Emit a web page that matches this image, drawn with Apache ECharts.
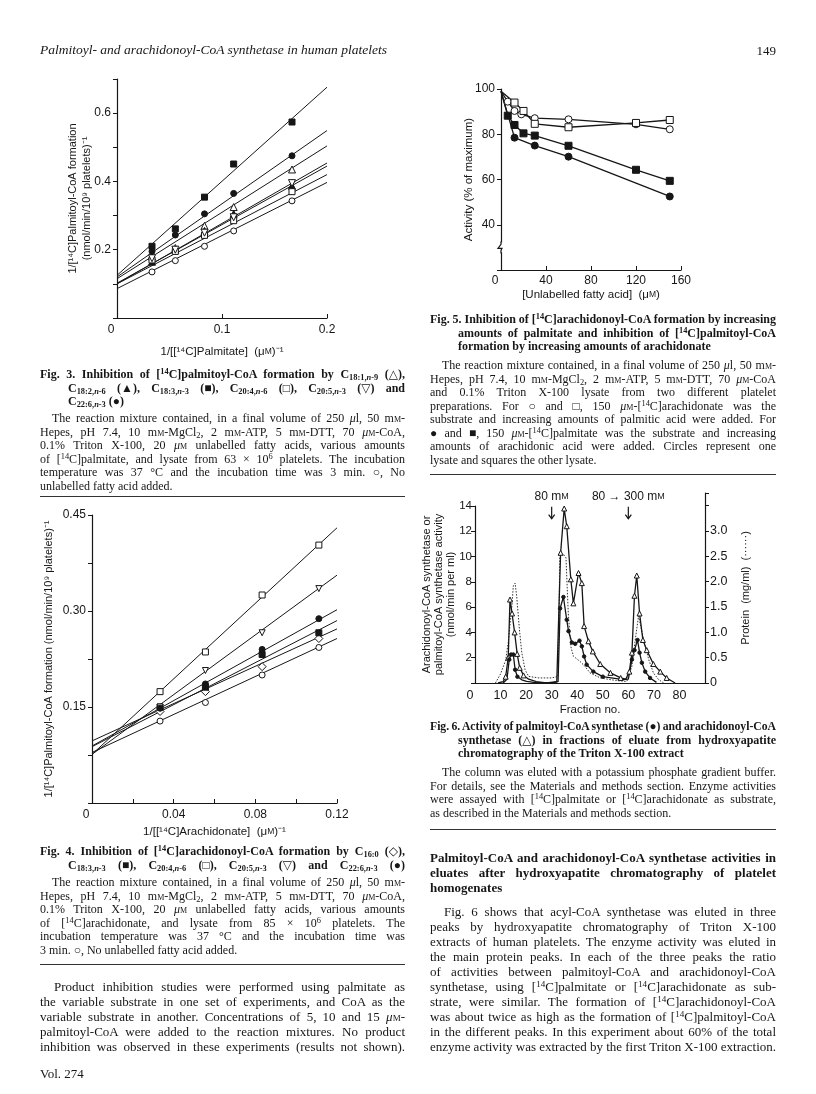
<!DOCTYPE html>
<html>
<head>
<meta charset="utf-8">
<title>Palmitoyl- and arachidonoyl-CoA synthetase in human platelets</title>
<script src="https://cdn.jsdelivr.net/npm/echarts@6/dist/echarts.min.js"></script>
<style>
html, body { margin: 0; padding: 0; background: #fff; }
#page { position: relative; width: 816px; height: 1094px; overflow: hidden; background: #fff; color: #161616;
        font-family: "Liberation Serif", "DejaVu Serif", serif; }
#chart { position: absolute; left: 0; top: 0; width: 816px; height: 1094px; }
.ln { position: absolute; white-space: nowrap; }
.ln span { display: inline-block; transform-origin: 0 50%; }
.cap { font-size: 12px; line-height: 14px; }
.body { font-size: 13px; line-height: 15px; }
.head { font-size: 13.5px; line-height: 16px; font-style: italic; }
.rule { position: absolute; height: 0; border-top: 1.2px solid #333; }
.sc { font-variant: small-caps; }
sub, sup { font-size: 70%; line-height: 0; }
sub { vertical-align: -0.25em; }
sup { vertical-align: 0.45em; }
</style>
</head>
<body>
<div id="page">
  <div id="chart"></div>
</div>
<script>
// ---- Fig. 3 : 1/v against 1/[palmitate] ----
var fig3X = [1 / 30, 1 / 18, 1 / 12, 1 / 9, 1 / 6];
var fig3None = [0.135, 0.168, 0.210, 0.255, 0.343];
var fig3C181 = [0.180, 0.205, 0.270, 0.325, 0.435];
var fig3C182 = [0.165, 0.200, 0.255, 0.305, 0.387];
var fig3C183 = [0.210, 0.261, 0.354, 0.451, 0.574];
var fig3C204 = [0.170, 0.195, 0.242, 0.285, 0.370];
var fig3C205 = [0.175, 0.200, 0.250, 0.295, 0.395];
var fig3C226 = [0.195, 0.243, 0.305, 0.365, 0.475];
// fitted lines, value at x = 0 and at x = 0.2 (same order as above)
var fig3FitStart = [0.086, 0.115, 0.100, 0.125, 0.100, 0.102, 0.120];
var fig3FitEnd = [0.397, 0.504, 0.454, 0.676, 0.420, 0.445, 0.549];

// ---- Fig. 4 : 1/v against 1/[arachidonate] ----
var fig4X = [1 / 30, 1 / 18, 1 / 12, 1 / 9];
var fig4None = [0.128, 0.157, 0.200, 0.243];
var fig4C160 = [0.143, 0.174, 0.213, 0.257];
var fig4C183 = [0.150, 0.181, 0.232, 0.266];
var fig4C204 = [0.174, 0.236, 0.325, 0.403];
var fig4C205 = [0.150, 0.207, 0.266, 0.335];
var fig4C226 = [0.148, 0.186, 0.240, 0.288];
// fitted lines, value at x = 0 and at x = 0.12
var fig4FitStart = [0.079, 0.097, 0.088, 0.076, 0.076, 0.089];
var fig4FitEnd = [0.257, 0.272, 0.285, 0.430, 0.356, 0.302];

// ---- Fig. 5 : activity (% of maximum) against unlabelled fatty acid (uM) ----
var fig5XOpenCircle = [0, 6, 12, 18, 30, 60, 120, 150];
var fig5OpenCircle = [99, 94.4, 90.3, 88.8, 87.1, 86.6, 84.4, 82.2];
var fig5XOpenSquare = [0, 12, 20, 30, 60, 120, 150];
var fig5OpenSquare = [99, 94, 90.3, 84.6, 83.1, 85, 86.3];
var fig5XFilledSquare = [0, 6, 12, 20, 30, 60, 120, 150];
var fig5FilledSquare = [99, 88.2, 84.1, 80.4, 79.4, 74.9, 64.3, 59.4];
var fig5XFilledCircle = [0, 12, 30, 60, 150];
var fig5FilledCircle = [99, 78.5, 75, 70.1, 52.5];

// ---- Fig. 6 : hydroxyapatite fractions ----
var fig6FracTri = [9, 11, 12, 13, 13.7, 14.5, 15.5, 16.5, 17.5, 19, 21, 24, 28, 32, 33.5, 34.9, 35.9, 37.5, 38.5, 40.5,
                   41.8, 42.7, 44.4, 46.1, 49, 53, 57, 59, 60.4, 61.4, 62.4, 63.3, 64.4, 65.7, 67.2, 69.8, 72.5, 75, 78.3];
var fig6Tri = [0, 0.1, 0.5, 2.0, 6.6, 5.5, 4.0, 2.3, 1.2, 0.6, 0.3, 0.1, 0, 0.1, 10.3, 13.8, 12.4, 8.2, 6.3, 8.7,
               7.9, 4.5, 3.3, 2.5, 1.5, 0.8, 0.4, 0.3, 0.9, 2.4, 6.9, 8.5, 5.5, 3.4, 2.6, 1.5, 0.9, 0.4, 0];
var fig6FracDot = [11, 12.5, 13.4, 14.1, 15, 15.7, 16.6, 18.3, 20.2, 23, 30, 32.5, 33.3, 34.6, 35.9, 36.6, 37.9, 39.2, 40.9, 41.8,
                   42.7, 43.7, 46.3, 50, 58, 60, 61.4, 62.4, 63.6, 64.4, 65.3, 66.6, 68.5, 71];
var fig6Dot = [0, 0.3, 1.85, 2.25, 2.25, 1.05, 0.5, 0.25, 0.13, 0.05, 0, 0.1, 5.9, 6.8, 5.0, 4.1, 3.2, 3.1, 3.35, 2.9,
               2.1, 1.45, 0.9, 0.5, 0.26, 0.3, 1.85, 2.6, 3.4, 2.4, 1.6, 0.9, 0.4, 0.05];
var fig6FracProt = [8, 10, 12, 13, 14.4, 15, 15.7, 16.3, 17.4, 18.3, 19.6, 21, 25, 30, 32.5, 33.2, 35, 35.6, 36.5, 37.5,
                    38.5, 41, 43, 45, 49, 55, 59.4, 61.4, 62.7, 64, 64.6, 66, 68, 69.8, 71.8, 73.8];
var fig6Prot = [0, 0.18, 0.45, 0.8, 1.5, 1.92, 1.97, 1.72, 1.05, 0.6, 0.26, 0.13, 0.1, 0.1, 0.13, 2.55, 2.52, 2.47, 1.38, 0.72,
                0.53, 0.43, 0.33, 0.2, 0.1, 0.05, 0.03, 0.33, 0.85, 1.32, 1.3, 0.85, 0.46, 0.2, 0.07, 0];
var fig6ArrowFrac = [30, 60];
var fig6ArrowText = ['80 m{s|M}', '80 \u2192 300 m{s|M}'];

var ink = '#161616';
var sans = 'Liberation Sans';

function pts(xs, ys) {
    return xs.map(function (x, i) { return [x, ys[i]]; });
}

// label formatter: label every `every` ticks of size `step`
function fmtEvery(step, every, digits, zeroLabel) {
    return function (v) {
        var k = Math.round(v / step);
        if (k === 0) return zeroLabel;
        if (k % every) return '';
        return (k * step).toFixed(digits);
    };
}

function mkAxis(gi, min, max, interval, fmt, o) {
    o = o || {};
    return {
        type: 'value', gridIndex: gi, min: min, max: max, interval: interval,
        position: o.position, show: o.show !== false,
        name: o.name || '', nameLocation: 'middle', nameGap: o.nameGap || 20, nameRotate: o.nameRotate,
        nameMoveOverlap: false,
        nameTextStyle: { color: ink, fontFamily: sans, fontSize: o.nameSize || 11, lineHeight: o.nameLH || 14,
                         rich: { s: { fontSize: 8.5, fontFamily: sans, color: ink } } },
        axisLine: { show: true, onZero: false, lineStyle: { color: ink, width: 1.2 } },
        axisTick: { show: o.ticks !== false, inside: !!o.tickInside, length: 4, lineStyle: { color: ink, width: 1 } },
        axisLabel: { show: true, formatter: fmt, color: ink, fontFamily: sans, fontSize: o.labelSize || 12,
                     margin: o.margin || 6, rich: { z: { padding: [0, o.zeroShift || 12, 0, 0] } } },
        splitLine: { show: false }
    };
}

function marker(gi, data, sym, filled, size, rot) {
    return {
        type: 'scatter', xAxisIndex: gi, yAxisIndex: gi, data: data, symbol: sym, symbolSize: size,
        symbolRotate: rot || 0, silent: true, z: 4,
        itemStyle: { color: filled ? ink : '#fff', borderColor: ink, borderWidth: 1, opacity: 1 }
    };
}

function fitLine(gi, x0, x1, y0, y1) {
    return {
        type: 'line', xAxisIndex: gi, yAxisIndex: gi, data: [[x0, y0], [x1, y1]], symbol: 'none',
        silent: true, z: 2, lineStyle: { color: ink, width: 1 }
    };
}

function curve(gi, data, sym, filled, size, rot, hideBelow) {
    return {
        type: 'line', xAxisIndex: gi, yAxisIndex: gi, silent: true, z: 3,
        data: data.map(function (p) {
            return (p[0] === 0 || p[1] < hideBelow) ? { value: p, symbol: 'none' } : { value: p };
        }),
        symbol: sym, symbolSize: size, symbolRotate: rot || 0, showAllSymbol: true,
        lineStyle: { color: ink, width: 1.3 },
        itemStyle: { color: filled ? ink : '#fff', borderColor: ink, borderWidth: 1 }
    };
}

var series = [];

// Fig. 3
var fig3Sets = [fig3None, fig3C181, fig3C182, fig3C183, fig3C204, fig3C205, fig3C226];
var fig3Sym = ['circle', 'triangle', 'triangle', 'rect', 'rect', 'triangle', 'circle'];
var fig3Fill = [0, 0, 1, 1, 0, 0, 1];
var fig3Rot = [0, 0, 0, 0, 0, 180, 0];
fig3Sets.forEach(function (ys, i) {
    series.push(fitLine(0, 0, 0.2, fig3FitStart[i], fig3FitEnd[i]));
    series.push(marker(0, pts(fig3X, ys), fig3Sym[i], fig3Fill[i], fig3Sym[i] === 'triangle' ? 7 : 6, fig3Rot[i]));
});

// Fig. 4
var fig4Sets = [fig4None, fig4C160, fig4C183, fig4C204, fig4C205, fig4C226];
var fig4Sym = ['circle', 'diamond', 'rect', 'rect', 'triangle', 'circle'];
var fig4Fill = [0, 0, 1, 0, 0, 1];
var fig4Rot = [0, 0, 0, 0, 180, 0];
fig4Sets.forEach(function (ys, i) {
    series.push(fitLine(2, 0, 0.12, fig4FitStart[i], fig4FitEnd[i]));
    series.push(marker(2, pts(fig4X, ys), fig4Sym[i], fig4Fill[i], fig4Sym[i] === 'diamond' ? 8 : 6, fig4Rot[i]));
});

// Fig. 5
series.push(curve(1, pts(fig5XOpenCircle, fig5OpenCircle), 'circle', false, 7, 0, -1));
series.push(curve(1, pts(fig5XOpenSquare, fig5OpenSquare), 'rect', false, 7, 0, -1));
series.push(curve(1, pts(fig5XFilledSquare, fig5FilledSquare), 'rect', true, 7, 0, -1));
series.push(curve(1, pts(fig5XFilledCircle, fig5FilledCircle), 'circle', true, 7, 0, -1));

// Fig. 6
series.push(curve(3, pts(fig6FracTri, fig6Tri), 'triangle', false, 5, 0, 0.35));
series.push(curve(3, pts(fig6FracDot, fig6Dot), 'circle', true, 3.5, 0, 0.35));
series.push({
    type: 'line', xAxisIndex: 4, yAxisIndex: 4, data: pts(fig6FracProt, fig6Prot), symbol: 'none', silent: true, z: 2,
    lineStyle: { color: '#333', width: 1, type: [1.5, 1.5] }
});

var chart = echarts.init(document.getElementById('chart'), null, { renderer: 'canvas' });

var option = {
    animation: false,
    backgroundColor: 'transparent',
    grid: [
        { left: 117, top: 79, width: 210, height: 239, outerBoundsMode: 'none' },   // Fig. 3
        { left: 501, top: 89, width: 180, height: 181, outerBoundsMode: 'none' },   // Fig. 5
        { left: 92, top: 515, width: 245, height: 288, outerBoundsMode: 'none' },   // Fig. 4
        { left: 475, top: 506, width: 230, height: 177, outerBoundsMode: 'none' },  // Fig. 6 activity
        { left: 475, top: 493, width: 230, height: 190, outerBoundsMode: 'none' }   // Fig. 6 protein
    ],
    xAxis: [
        mkAxis(0, 0, 0.2, 0.1, fmtEvery(0.1, 1, 1, '{z|0}'),
               { tickInside: true, name: '1/[[\u00b9\u2074C]Palmitate]  (\u03bc{s|M})\u207b\u00b9', nameGap: 27, nameSize: 11.5 }),
        mkAxis(1, 0, 160, 40, fmtEvery(40, 1, 0, '{z|0}'),
               { tickInside: true, name: '[Unlabelled fatty acid]  (\u03bc{s|M})', nameGap: 18, nameSize: 11.5, margin: 5 }),
        mkAxis(2, 0, 0.12, 0.02, fmtEvery(0.02, 2, 2, '{z|0}'),
               { tickInside: true, name: '1/[[\u00b9\u2074C]Arachidonate]  (\u03bc{s|M})\u207b\u00b9', nameGap: 22, nameSize: 11.5 }),
        mkAxis(3, 0, 90, 10, function (v) { return v === 0 ? '{z|0}' : (v >= 90 ? '' : String(v)); },
               { ticks: false, name: 'Fraction no.', nameGap: 20, nameSize: 11.5, zeroShift: 10, labelSize: 12.5 }),
        mkAxis(4, 0, 90, 10, '', { show: false })
    ],
    yAxis: [
        mkAxis(0, 0, 0.7, 0.1, fmtEvery(0.1, 2, 1, ''),
               { name: '1/[\u00b9\u2074C]Palmitoyl-CoA formation\n(nmol/min/10\u2079 platelets)\u207b\u00b9', nameGap: 23, nameRotate: 90 }),
        mkAxis(1, 20, 100, 20, function (v) { return v === 20 ? '' : String(v); },
               { name: 'Activity (% of maximum)', nameGap: 25, nameRotate: 90, nameSize: 11.5 }),
        mkAxis(2, 0, 0.45, 0.075, fmtEvery(0.075, 2, 2, ''),
               { name: '1/[\u00b9\u2074C]Palmitoyl-CoA formation (nmol/min/10\u2079 platelets)\u207b\u00b9', nameGap: 36, nameRotate: 90 }),
        mkAxis(3, 0, 14, 2, function (v) { return v === 0 ? '' : String(v); },
               { name: 'Arachidonoyl-CoA synthetase or\npalmitoyl-CoA synthetase activity\n(nmol/min per ml)', nameGap: 18,
                 nameRotate: 90, nameLH: 12, margin: 3, labelSize: 11.5 }),
        mkAxis(4, 0, 3.75, 0.5, function (v) { return v === 0 ? '0' : (v > 3.1 ? '' : v.toFixed(1)); },
               { position: 'right', name: 'Protein  (mg/ml)  (\u00b7\u00b7\u00b7\u00b7\u00b7\u00b7)', nameGap: 34, nameRotate: 90,
                 margin: 5, labelSize: 12.5 })
    ],
    series: series
};
chart.setOption(option);

// decorations placed through the axes: broken y axis of Fig. 5 and the elution arrows of Fig. 6
var g = [];
var b = chart.convertToPixel({ xAxisIndex: 1, yAxisIndex: 1 }, [0, 30]);
g.push({ type: 'rect', shape: { x: b[0] - 4, y: b[1] - 5, width: 8, height: 10 }, style: { fill: '#fff' }, z: 50 });
g.push({ type: 'polyline', shape: { points: [[b[0], b[1] - 6], [b[0], b[1] - 3], [b[0] - 3, b[1] + 1], [b[0] + 1, b[1] + 1], [b[0], b[1] + 3], [b[0], b[1] + 6]] },
         style: { stroke: ink, lineWidth: 1.2, fill: null }, z: 51 });
fig6ArrowFrac.forEach(function (f, i) {
    var top = chart.convertToPixel({ xAxisIndex: 3, yAxisIndex: 3 }, [f, 13.95]);
    var bot = chart.convertToPixel({ xAxisIndex: 3, yAxisIndex: 3 }, [f, 13.0]);
    var lab = chart.convertToPixel({ xAxisIndex: 3, yAxisIndex: 3 }, [f, 14.75]);
    g.push({ type: 'line', shape: { x1: top[0], y1: top[1], x2: bot[0], y2: bot[1] }, style: { stroke: ink, lineWidth: 1.2 }, z: 50 });
    g.push({ type: 'polyline', shape: { points: [[bot[0] - 3, bot[1] - 4], [bot[0], bot[1]], [bot[0] + 3, bot[1] - 4]] },
             style: { stroke: ink, lineWidth: 1.2, fill: null }, z: 50 });
    g.push({ type: 'text', x: lab[0], y: lab[1], z: 50,
             style: { text: fig6ArrowText[i], fill: ink, font: '12px ' + sans, align: 'center', verticalAlign: 'middle',
                      rich: { s: { fontSize: 9, fontFamily: sans, fill: ink } } } });
});
chart.setOption({ graphic: g });

// ---- page text ----
var page = document.getElementById('page');
var lineH = { cap: 14, body: 15, head: 16 };
function addLine(x, y, w, cls, html, just, alignRight) {
    var d = document.createElement('div');
    d.className = 'ln ' + cls;
    d.style.top = (y - lineH[cls] / 2) + 'px';
    d.style.left = x + 'px';
    var s = document.createElement('span');
    s.innerHTML = html;
    d.appendChild(s);
    page.appendChild(d);
    var nat = s.getBoundingClientRect().width;
    if (just) {
        var n = (s.textContent.match(/ /g) || []).length;
        var gap = n > 0 ? (w - nat) / n : 0;
        if (gap >= -0.6) {
            s.style.wordSpacing = gap + 'px';
        } else {
            // line is too long for the measure: squeeze it slightly instead of collapsing the spaces
            s.style.wordSpacing = '-0.6px';
            var nat2 = s.getBoundingClientRect().width;
            s.style.transform = 'scaleX(' + (w / nat2) + ')';
        }
    }
    if (alignRight) d.style.left = (x - nat) + 'px';
}
function rule(x, y, w) {
    var r = document.createElement('div');
    r.className = 'rule';
    r.style.left = x + 'px';
    r.style.top = y + 'px';
    r.style.width = w + 'px';
    page.appendChild(r);
}
var mM = 'm<span class="sc">m</span>';
var uM = '<i>\u03bc</i><span class="sc">m</span>';
var C14 = '[<sup>14</sup>C]';
function cs(a) { return 'C<sub>' + a.replace(/n/, '<i>n</i>') + '</sub>'; }
var CAP = 13.5, BODY = 15;

addLine(40, 50, 0, 'head', 'Palmitoyl- and arachidonoyl-CoA synthetase in human platelets');
addLine(776, 50, 0, 'body', '149', false, true);

// left column
var L = 40, LW = 365;
addLine(L, 374, LW, 'cap', '<b>Fig. 3. Inhibition of ' + C14 + 'palmitoyl-CoA formation by ' + cs('18:1,n-9') + ' (\u25b3),</b>', true);
addLine(68, 374 + CAP, LW - 28, 'cap', '<b>' + cs('18:2,n-6') + ' (\u25b2), ' + cs('18:3,n-3') + ' (\u25a0), ' + cs('20:4,n-6') + ' (\u25a1), ' + cs('20:5,n-3') + ' (\u25bd) and</b>', true);
addLine(68, 374 + 2 * CAP, 0, 'cap', '<b>' + cs('22:6,n-3') + ' (\u25cf)</b>');
var cap3 = [
    'The reaction mixture contained, in a final volume of 250 <i>\u03bc</i>l, 50 ' + mM + '-',
    'Hepes, pH 7.4, 10 ' + mM + '-MgCl<sub>2</sub>, 2 ' + mM + '-ATP, 5 ' + mM + '-DTT, 70 ' + uM + '-CoA,',
    '0.1% Triton X-100, 20 ' + uM + ' unlabelled fatty acids, various amounts',
    'of ' + C14 + 'palmitate, and lysate from 63 \u00d7 10<sup>6</sup> platelets. The incubation',
    'temperature was 37 \u00b0C and the incubation time was 3 min. \u25cb, No',
    'unlabelled fatty acid added.'
];
cap3.forEach(function (t, i) {
    addLine(i === 0 ? L + 12 : L, 418 + i * CAP, i === 0 ? LW - 12 : LW, 'cap', t, i < cap3.length - 1);
});
rule(L, 496, LW);

addLine(L, 851, LW, 'cap', '<b>Fig. 4. Inhibition of ' + C14 + 'arachidonoyl-CoA formation by ' + cs('16:0') + ' (\u25c7),</b>', true);
addLine(68, 851 + CAP, LW - 28, 'cap', '<b>' + cs('18:3,n-3') + ' (\u25a0), ' + cs('20:4,n-6') + ' (\u25a1), ' + cs('20:5,n-3') + ' (\u25bd) and ' + cs('22:6,n-3') + ' (\u25cf)</b>', true);
var cap4 = [
    'The reaction mixture contained, in a final volume of 250 <i>\u03bc</i>l, 50 ' + mM + '-',
    'Hepes, pH 7.4, 10 ' + mM + '-MgCl<sub>2</sub>, 2 ' + mM + '-ATP, 5 ' + mM + '-DTT, 70 ' + uM + '-CoA,',
    '0.1% Triton X-100, 20 ' + uM + ' unlabelled fatty acids, various amounts',
    'of ' + C14 + 'arachidonate, and lysate from 85 \u00d7 10<sup>6</sup> platelets. The',
    'incubation temperature was 37 \u00b0C and the incubation time was',
    '3 min. \u25cb, No unlabelled fatty acid added.'
];
cap4.forEach(function (t, i) {
    addLine(i === 0 ? L + 12 : L, 882 + i * CAP, i === 0 ? LW - 12 : LW, 'cap', t, i < cap4.length - 1);
});
rule(L, 964, LW);

var para1 = [
    'Product inhibition studies were performed using palmitate as',
    'the variable substrate in one set of experiments, and CoA as the',
    'variable substrate in another. Concentrations of 5, 10 and 15 ' + uM + '-',
    'palmitoyl-CoA were added to the reaction mixtures. No product',
    'inhibition was observed in these experiments (results not shown).'
];
para1.forEach(function (t, i) {
    addLine(i === 0 ? L + 14 : L, 986 + i * BODY, i === 0 ? LW - 14 : LW, 'body', t, true);
});
addLine(L, 1073, 0, 'body', 'Vol. 274');

// right column
var R = 430, RW = 346;
addLine(R, 319, RW, 'cap', '<b>Fig. 5. Inhibition of ' + C14 + 'arachidonoyl-CoA formation by increasing</b>', true);
addLine(R + 28, 319 + CAP, RW - 28, 'cap', '<b>amounts of palmitate and inhibition of ' + C14 + 'palmitoyl-CoA</b>', true);
addLine(R + 28, 319 + 2 * CAP, 0, 'cap', '<b>formation by increasing amounts of arachidonate</b>');
var cap5 = [
    'The reaction mixture contained, in a final volume of 250 <i>\u03bc</i>l, 50 ' + mM + '-',
    'Hepes, pH 7.4, 10 ' + mM + '-MgCl<sub>2</sub>, 2 ' + mM + '-ATP, 5 ' + mM + '-DTT, 70 ' + uM + '-CoA',
    'and 0.1% Triton X-100 lysate from two different platelet',
    'preparations. For \u25cb and \u25a1, 150 ' + uM + '-' + C14 + 'arachidonate was the',
    'substrate and increasing amounts of palmitic acid were added. For',
    '\u25cf and \u25a0, 150 ' + uM + '-' + C14 + 'palmitate was the substrate and increasing',
    'amounts of arachidonic acid were added. Circles represent one',
    'lysate and squares the other lysate.'
];
cap5.forEach(function (t, i) {
    addLine(i === 0 ? R + 12 : R, 365 + i * CAP, i === 0 ? RW - 12 : RW, 'cap', t, i < cap5.length - 1);
});
rule(R, 474, RW);

addLine(R, 726, RW, 'cap', '<b>Fig. 6. Activity of palmitoyl-CoA synthetase (\u25cf) and arachidonoyl-CoA</b>', true);
addLine(R + 28, 726 + CAP, RW - 28, 'cap', '<b>synthetase (\u25b3) in fractions of eluate from hydroxyapatite</b>', true);
addLine(R + 28, 726 + 2 * CAP, 0, 'cap', '<b>chromatography of the Triton X-100 extract</b>');
var cap6 = [
    'The column was eluted with a potassium phosphate gradient buffer.',
    'For details, see the Materials and methods section. Enzyme activities',
    'were assayed with ' + C14 + 'palmitate or ' + C14 + 'arachidonate as substrate,',
    'as described in the Materials and methods section.'
];
cap6.forEach(function (t, i) {
    addLine(i === 0 ? R + 12 : R, 772 + i * CAP, i === 0 ? RW - 12 : RW, 'cap', t, i < cap6.length - 1);
});
rule(R, 829, RW);

addLine(R, 857, RW, 'body', '<b>Palmitoyl-CoA and arachidonoyl-CoA synthetase activities in</b>', true);
addLine(R, 857 + BODY, RW, 'body', '<b>eluates after hydroxyapatite chromatography of platelet</b>', true);
addLine(R, 857 + 2 * BODY, 0, 'body', '<b>homogenates</b>');
var para2 = [
    'Fig. 6 shows that acyl-CoA synthetase was eluted in three',
    'peaks by hydroxyapatite chromatography of Triton X-100',
    'extracts of human platelets. The enzyme activity was eluted in',
    'the main protein peaks. In each of the three peaks the ratio',
    'of activities between palmitoyl-CoA and arachidonoyl-CoA',
    'synthetase, using ' + C14 + 'palmitate or ' + C14 + 'arachidonate as sub-',
    'strate, were similar. The formation of ' + C14 + 'arachidonoyl-CoA',
    'was about twice as high as the formation of ' + C14 + 'palmitoyl-CoA',
    'in the different peaks. In this experiment about 60% of the total',
    'enzyme activity was extracted by the first Triton X-100 extraction.'
];
para2.forEach(function (t, i) {
    addLine(i === 0 ? R + 14 : R, 911 + i * BODY, i === 0 ? RW - 14 : RW, 'body', t, true);
});
</script>
</body>
</html>
